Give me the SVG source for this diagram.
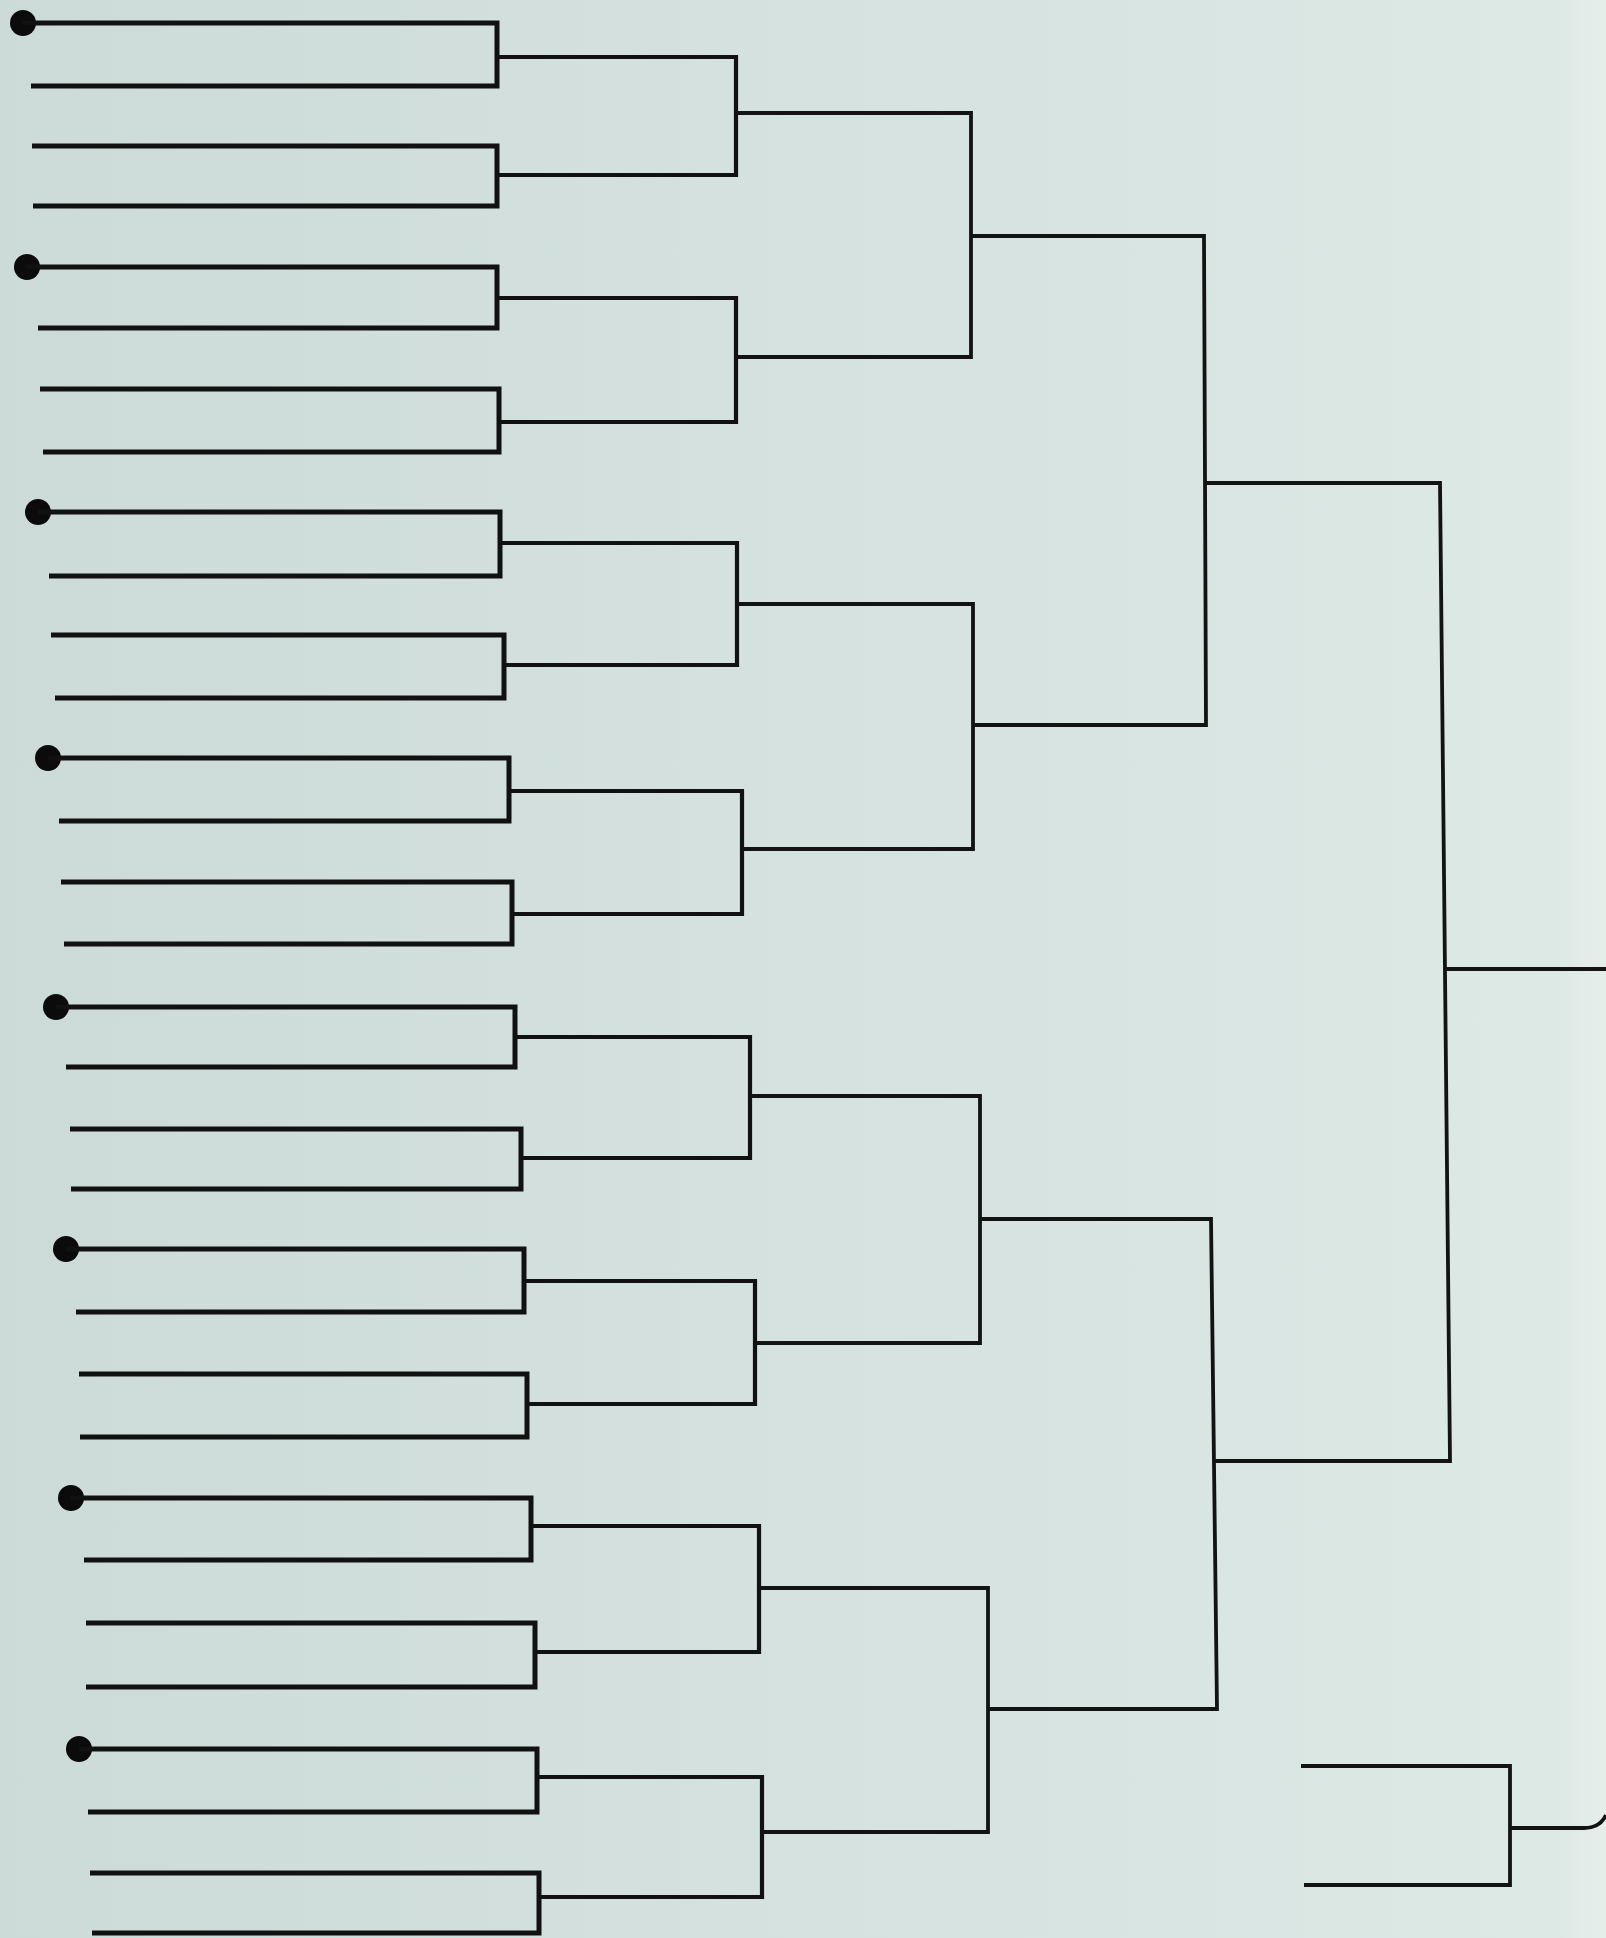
<svg xmlns="http://www.w3.org/2000/svg" width="1606" height="1938" viewBox="0 0 1606 1938">
  <defs>
    <linearGradient id="paper" x1="0" y1="0" x2="1" y2="0">
      <stop offset="0" stop-color="#cddbd8"/>
      <stop offset="0.6" stop-color="#d6e3e0"/>
      <stop offset="0.97" stop-color="#dde9e5"/>
      <stop offset="1" stop-color="#e6eeea"/>
    </linearGradient>
    <style>
      .r1 { fill: none; stroke: #111; stroke-width: 5; stroke-linejoin: miter; }
      .r2 { fill: none; stroke: #111; stroke-width: 4.2; stroke-linejoin: miter; }
      .r3 { fill: none; stroke: #131313; stroke-width: 3.8; stroke-linejoin: miter; }
      .seed { fill: #0b0b0b; }
    </style>
  </defs>
  <rect x="0" y="0" width="1606" height="1938" fill="url(#paper)"/>

  <g id="seeds">
    <circle id="seed1" class="seed" cx="23" cy="23" r="13"/>
    <circle id="seed2" class="seed" cx="27" cy="267" r="13"/>
    <circle id="seed3" class="seed" cx="38" cy="512" r="13"/>
    <circle id="seed4" class="seed" cx="48" cy="758" r="13"/>
    <circle id="seed5" class="seed" cx="56" cy="1007" r="13"/>
    <circle id="seed6" class="seed" cx="66" cy="1249" r="13"/>
    <circle id="seed7" class="seed" cx="71" cy="1498" r="13"/>
    <circle id="seed8" class="seed" cx="79" cy="1749" r="13"/>
  </g>

  <g id="connectors">
    <g id="round1" class="r1">
      <path d="M23 23 H497 V86 H31"/>
      <path d="M32 146 H497 V206 H33"/>
      <path d="M27 267 H497 V328 H38"/>
      <path d="M40 389 H499 V452 H43"/>
      <path d="M38 512 H500 V576 H49"/>
      <path d="M51 635 H504 V698 H55"/>
      <path d="M48 758 H509 V821 H59"/>
      <path d="M61 882 H512 V944 H64"/>
      <path d="M56 1007 H515 V1067 H66"/>
      <path d="M70 1129 H521 V1189 H71"/>
      <path d="M66 1249 H524 V1312 H76"/>
      <path d="M79 1374 H527 V1437 H80"/>
      <path d="M71 1498 H531 V1560 H84"/>
      <path d="M86 1623 H535 V1687 H86"/>
      <path d="M79 1749 H537 V1812 H88"/>
      <path d="M90 1873 H539 V1933 H92"/>
    </g>
    <g id="round2" class="r2">
      <path d="M497 57 H736 V175 H497"/>
      <path d="M497 298 H736 V422 H499"/>
      <path d="M500 543 H737 V665 H504"/>
      <path d="M509 791 H742 V914 H512"/>
      <path d="M515 1037 H750 V1158 H521"/>
      <path d="M524 1281 H755 V1404 H527"/>
      <path d="M531 1526 H759 V1652 H535"/>
      <path d="M537 1777 H762 V1897 H539"/>
    </g>
    <g id="round3" class="r3">
      <path d="M736 113 H971 V357 H736"/>
      <path d="M737 604 H973 V849 H742"/>
      <path d="M750 1096 H980 V1343 H755"/>
      <path d="M759 1588 H988 V1832 H762"/>
    </g>
    <g id="round4" class="r3">
      <path d="M971 236 H1204 L1206 725 H973"/>
      <path d="M980 1219 H1211 L1217 1709 H988"/>
    </g>
    <g id="round5" class="r3">
      <path d="M1205 483 H1440 L1450 1461 H1214"/>
      <path d="M1445 969 H1606"/>
    </g>
    <g id="small-bracket" class="r3">
      <path d="M1301 1766 H1510 V1885 H1304"/>
      <path d="M1511 1828 H1584 Q1600 1828 1606 1815"/>
    </g>
  </g>
</svg>
